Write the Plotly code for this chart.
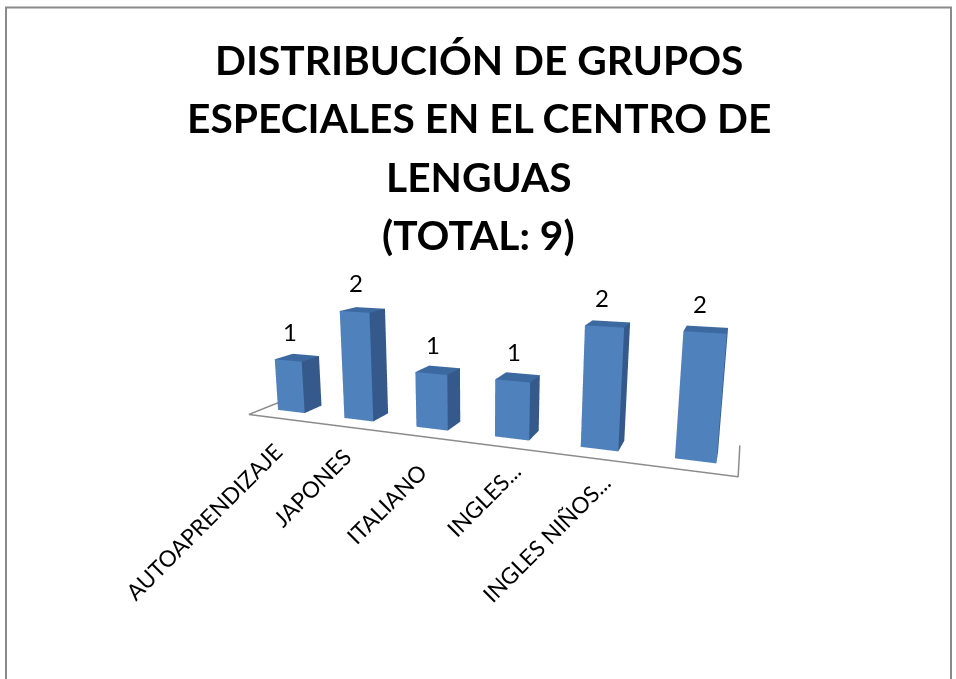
import math
import plotly.graph_objects as go

# Chart data
categories = ["AUTOAPRENDIZAJE", "JAPONES", "ITALIANO", "INGLES...", "INGLES NIÑOS...", ""]
values = [1, 2, 1, 1, 2, 2]
title_lines = [
    "DISTRIBUCIÓN DE GRUPOS",
    "ESPECIALES EN EL CENTRO DE",
    "LENGUAS",
    "(TOTAL: 9)",
]

WIDTH = 956
HEIGHT = 679
FONT = "Lato"
BAR_WIDTH = 0.41
BAR_DEPTH = 0.38
FLOOR_DEPTH = 1.0
FLOOR_INSET = 0.08
FRONT = "#4f81bd"
SIDE = "#34598a"
TOP = "#3c6aa0"
FLOOR_LINE = "#8c8c8c"
# the original places its rotated labels a little unevenly
LABEL_XSHIFT = [14, 14, 15, 26, 25, 0]
LABEL_YSHIFT = [-17, -14, -19, -7, -8, 0]
VALUE_XSHIFT = [2, 2, 2, 1, -2, -5]


def add_bar(fig, slot, value):
    """One column as a box mesh, each side with its own flat colour"""
    x0 = slot + 0.5 - BAR_WIDTH / 2
    x1 = slot + 0.5 + BAR_WIDTH / 2
    y0 = (FLOOR_DEPTH - BAR_DEPTH) / 2
    y1 = y0 + BAR_DEPTH
    fig.add_trace(go.Mesh3d(
        x=[x0, x1, x1, x0, x0, x1, x1, x0],
        y=[y0, y0, y1, y1, y0, y0, y1, y1],
        z=[0, 0, 0, 0, value, value, value, value],
        i=[0, 0, 1, 1, 4, 4, 3, 3, 0, 0, 0, 0],
        j=[1, 5, 2, 6, 5, 6, 2, 6, 3, 7, 1, 2],
        k=[5, 4, 6, 5, 6, 7, 6, 7, 7, 4, 2, 3],
        facecolor=[FRONT, FRONT, SIDE, SIDE, TOP, TOP, SIDE, SIDE, SIDE, SIDE, SIDE, SIDE],
        flatshading=True,
        lighting=dict(ambient=1, diffuse=0, specular=0, fresnel=0),
        hoverinfo="skip",
        showscale=False,
    ))


fig = go.Figure()

for slot, value in enumerate(values):
    add_bar(fig, slot, value)

# Floor outline, the back edge is not drawn
fig.add_trace(go.Scatter3d(
    x=[FLOOR_INSET, FLOOR_INSET, len(values) - FLOOR_INSET, len(values) - FLOOR_INSET],
    y=[FLOOR_DEPTH, 0, 0, FLOOR_DEPTH],
    z=[0, 0, 0, 0],
    mode="lines",
    line=dict(color=FLOOR_LINE, width=3),
    hoverinfo="skip",
    showlegend=False,
))

value_notes = [
    dict(x=slot + 0.5, y=(FLOOR_DEPTH - BAR_DEPTH) / 2, z=value, text=str(value), showarrow=False,
         yanchor="bottom", xshift=VALUE_XSHIFT[slot], yshift=13,
         font=dict(family=FONT, size=24, color="black"))
    for slot, value in enumerate(values)
]
category_notes = [
    dict(x=slot + 0.5, y=0, z=0, text=name, showarrow=False, textangle=-45,
         xanchor="right", yanchor="top", xshift=LABEL_XSHIFT[slot], yshift=LABEL_YSHIFT[slot],
         font=dict(family=FONT, size=22.5, color="black"))
    for slot, name in enumerate(categories) if name
]

azimuth = math.radians(21.3)
elevation = math.radians(12.7)
distance = 4.02

fig.update_layout(
    width=WIDTH,
    height=HEIGHT,
    margin=dict(l=0, r=0, t=0, b=0),
    paper_bgcolor="white",
    showlegend=False,
    scene=dict(
        domain=dict(x=[0, 954 / WIDTH], y=[25 / HEIGHT, 597 / HEIGHT]),
        aspectmode="manual",
        aspectratio=dict(x=3, y=0.5, z=0.74),
        xaxis=dict(visible=False, range=[0, len(values)]),
        yaxis=dict(visible=False, range=[0, FLOOR_DEPTH]),
        zaxis=dict(visible=False, range=[0, 2.2]),
        bgcolor="rgba(0,0,0,0)",
        camera=dict(
            projection=dict(type="perspective"),
            up=dict(x=0, y=0, z=1),
            center=dict(x=0, y=0, z=0),
            eye=dict(
                x=distance * math.sin(azimuth) * math.cos(elevation),
                y=-distance * math.cos(azimuth) * math.cos(elevation),
                z=distance * math.sin(elevation),
            ),
        ),
        annotations=value_notes + category_notes,
    ),
    shapes=[dict(
        type="rect", xref="paper", yref="paper",
        x0=6 / WIDTH, x1=951 / WIDTH, y0=-0.05, y1=1 - 7.5 / HEIGHT,
        line=dict(color="#8a8a8a", width=2),
    )],
    annotations=[
        dict(
            text=f"<b>{line}</b>", xref="paper", yref="paper",
            x=478.5 / WIDTH, y=1 - (59.5 + 58.3 * n) / HEIGHT,
            showarrow=False, xanchor="center", yanchor="middle",
            font=dict(family=FONT, size=40.7, color="black"),
        )
        for n, line in enumerate(title_lines)
    ],
)

fig.write_html(
    "out.html",
    config=dict(displayModeBar=False),
    post_script="document.body.style.margin='0';document.body.style.overflow='hidden';",
)
